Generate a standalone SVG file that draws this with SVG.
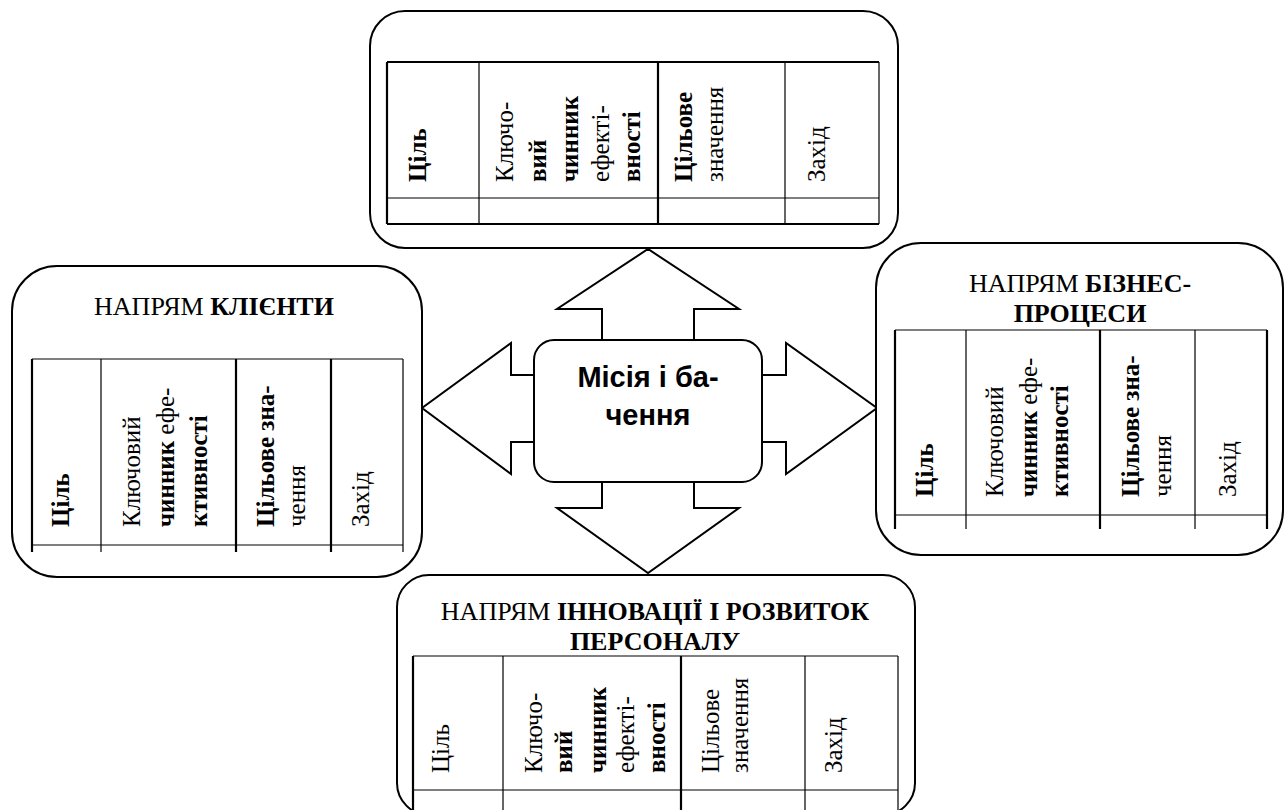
<svg xmlns="http://www.w3.org/2000/svg" width="1285" height="810" viewBox="0 0 1285 810">
<style>
.box{fill:#fff;stroke:#000;stroke-width:2}
.ln{stroke:#000;stroke-width:1.2;fill:none}
.tk{stroke:#000;stroke-width:2.2;fill:none}
.arr{fill:#fff;stroke:#000;stroke-width:2;stroke-linejoin:miter}
.t{font-family:'Liberation Serif','Times New Roman',serif;font-size:25px;fill:#000}
.b{font-weight:bold}
.h{font-family:'Liberation Serif','Times New Roman',serif;font-size:26px;fill:#000;text-anchor:middle}
.c{font-family:'Liberation Sans',Arial,sans-serif;font-weight:bold;font-size:29px;fill:#000;text-anchor:middle}
</style>
<rect width="1285" height="810" fill="#fff"/>

<g id="connectors">
<polygon class="arr" points="602,341 602,309 557,309 648,249 739,309 694,309 694,341"/>
<polygon class="arr" points="602,481 602,508 557,508 648,573 739,508 694,508 694,481"/>
<polygon class="arr" points="535,375 511,375 511,343 422,408 511,474 511,442 535,442"/>
<polygon class="arr" points="761,375 786,375 786,343 877,408 786,474 786,442 761,442"/>
</g>

<g id="top">
<rect class="box" x="370" y="11" width="528" height="237" rx="35"/>
<path class="tk" d="M387,62 H879 M387,62 V224 M387,224 H879 M658,62 V224"/>
<path class="ln" d="M387,198 H879 M479,62 V224 M785,62 V224 M879,62 V224"/>
<text class="t b" transform="translate(426,182) rotate(-90)">Ціль</text>
<text class="t" transform="translate(513,182) rotate(-90)">Ключо-</text>
<text class="t b" transform="translate(546,182) rotate(-90)">вий</text>
<text class="t b" transform="translate(578,182) rotate(-90)">чинник</text>
<text class="t" transform="translate(609,182) rotate(-90)">ефекті-</text>
<text class="t b" transform="translate(640,182) rotate(-90)">вності</text>
<text class="t b" transform="translate(692,182) rotate(-90)">Цільове</text>
<text class="t" transform="translate(723,182) rotate(-90)">значення</text>
<text class="t" transform="translate(825,182) rotate(-90)">Захід</text>
</g>

<g id="left">
<rect class="box" x="12" y="266" width="410" height="311" rx="45"/>
<text class="h" x="214" y="315">НАПРЯМ <tspan font-weight="bold">КЛІЄНТИ</tspan></text>
<path class="tk" d="M32,359 V552 M236,359 V552 M331,359 V552"/>
<path class="ln" d="M32,359 H403 M32,545 H403 M101,359 V552 M403,359 V552"/>
<text class="t b" transform="translate(69,527) rotate(-90)">Ціль</text>
<text class="t" transform="translate(140,527) rotate(-90)">Ключовий</text>
<text class="t" transform="translate(174,527) rotate(-90)"><tspan font-weight="bold">чинник</tspan> ефе-</text>
<text class="t b" transform="translate(207,527) rotate(-90)">ктивності</text>
<text class="t b" transform="translate(274,527) rotate(-90)">Цільове зна-</text>
<text class="t" transform="translate(305,527) rotate(-90)">чення</text>
<text class="t" transform="translate(369,527) rotate(-90)">Захід</text>
</g>

<g id="right">
<rect class="box" x="876" y="243" width="407" height="312" rx="45"/>
<text class="h" x="1080" y="292">НАПРЯМ <tspan font-weight="bold">БІЗНЕС-</tspan></text>
<text class="h" x="1080" y="322" font-weight="bold">ПРОЦЕСИ</text>
<path class="tk" d="M895,330 V529 M1100,330 V529 M1267,330 V529"/>
<path class="ln" d="M895,330 H1267 M895,515 H1267 M966,330 V529 M1195,330 V529"/>
<text class="t b" transform="translate(933,497) rotate(-90)">Ціль</text>
<text class="t" transform="translate(1003,497) rotate(-90)">Ключовий</text>
<text class="t" transform="translate(1037,497) rotate(-90)"><tspan font-weight="bold">чинник</tspan> ефе-</text>
<text class="t b" transform="translate(1068,497) rotate(-90)">ктивності</text>
<text class="t b" transform="translate(1139,497) rotate(-90)">Цільове зна-</text>
<text class="t" transform="translate(1171,497) rotate(-90)">чення</text>
<text class="t" transform="translate(1236,497) rotate(-90)">Захід</text>
</g>

<g id="bottom">
<rect class="box" x="397" y="575" width="518" height="240" rx="32"/>
<text class="h" x="655" y="620">НАПРЯМ <tspan font-weight="bold">ІННОВАЦІЇ І РОЗВИТОК</tspan></text>
<text class="h" x="655" y="650" font-weight="bold">ПЕРСОНАЛУ</text>
<path class="tk" d="M413,656 V810 M681,656 V810"/>
<path class="ln" d="M413,656 H898 M413,790 H898 M503,656 V810 M805,656 V810 M898,656 V810"/>
<text class="t" transform="translate(449,773) rotate(-90)">Ціль</text>
<text class="t" transform="translate(542,773) rotate(-90)">Ключо-</text>
<text class="t b" transform="translate(572,773) rotate(-90)">вий</text>
<text class="t b" transform="translate(606,773) rotate(-90)">чинник</text>
<text class="t" transform="translate(634,773) rotate(-90)">ефекті-</text>
<text class="t b" transform="translate(665,773) rotate(-90)">вності</text>
<text class="t" transform="translate(719,773) rotate(-90)">Цільове</text>
<text class="t" transform="translate(748,773) rotate(-90)">значення</text>
<text class="t" transform="translate(842,773) rotate(-90)">Захід</text>
</g>

<g id="center">
<rect class="box" x="534" y="340" width="228" height="142" rx="20"/>
<text class="c" x="648" y="387">Місія і ба-</text>
<text class="c" x="648" y="425">чення</text>
</g>
</svg>
